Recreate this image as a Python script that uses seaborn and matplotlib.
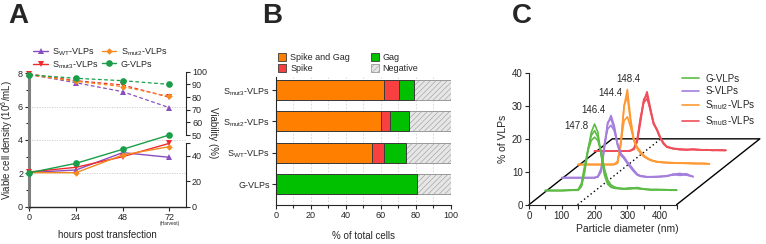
import numpy as np
import matplotlib
matplotlib.use("Agg")
import matplotlib.pyplot as plt
import seaborn as sns
from matplotlib.lines import Line2D
from matplotlib.patches import Patch

sns.set_style("ticks")
plt.rcParams['font.family'] = ['Liberation Sans', 'DejaVu Sans']
plt.rcParams['mathtext.fontset'] = 'custom'
plt.rcParams['mathtext.rm'] = 'Liberation Sans'
plt.rcParams['mathtext.it'] = 'Liberation Sans:italic'
plt.rcParams['mathtext.bf'] = 'Liberation Sans:bold'
plt.rcParams['hatch.linewidth'] = 0.4

# ---------------- data: panel A ----------------
hours = [0, 24, 48, 72]
a_labels = ["S$_{\\mathrm{WT}}$-VLPs", "S$_{\\mathrm{mut3}}$-VLPs",
            "S$_{\\mathrm{mut2}}$-VLPs", "G-VLPs"]
density_wt = [2.05, 2.20, 3.24, 2.96]
density_mut3 = [2.08, 2.36, 3.00, 3.80]
density_mut2 = [2.04, 2.04, 3.10, 3.60]
density_g = [2.03, 2.60, 3.44, 4.30]
viab_wt = [97.8, 91.3, 84.2, 71.6]
viab_mut3 = [98.2, 92.9, 89.5, 79.8]
viab_mut2 = [97.5, 92.4, 88.2, 80.5]
viab_g = [97.5, 94.8, 92.9, 90.0]

# ---------------- data: panel B ----------------
b_groups = ["S$_{\\mathrm{mut3}}$-VLPs", "S$_{\\mathrm{mut2}}$-VLPs",
            "S$_{\\mathrm{WT}}$-VLPs", "G-VLPs"]
spike_gag = [62.1, 60.2, 55.2, 0.0]
spike = [8.4, 4.8, 6.5, 0.0]
gag = [8.5, 11.4, 12.6, 80.6]
negative = [21.0, 23.6, 25.7, 19.4]

# ---------------- data: panel C ----------------
size_nm = [0, 50, 100, 110, 120, 130, 140, 150, 160, 170, 180, 190, 200,
           210, 220, 230, 240, 260, 280, 300, 320, 340, 360, 380, 400]
g_rep1 = [0.3, 0.3, 0.4, 1.5, 6, 12.5, 18, 20.5, 18, 11, 5, 2.2, 1.3, 1.0, 0.9, 0.8, 0.7, 0.8, 1.0, 0.7, 0.5, 0.6, 0.5, 0.4, 0.4]
g_rep2 = [0.3, 0.3, 0.5, 2.0, 7, 13, 17, 18.5, 16.5, 11.5, 6, 2.8, 1.6, 1.1, 1.0, 0.9, 0.8, 1.0, 1.2, 0.8, 0.6, 0.5, 0.6, 0.5, 0.4]
g_rep3 = [0.3, 0.3, 0.6, 2.5, 8, 12.5, 15.5, 16.5, 15.5, 12, 7, 3.5, 2.0, 1.4, 1.1, 1.0, 0.9, 1.1, 0.9, 0.7, 0.6, 0.6, 0.5, 0.4, 0.4]
s_rep1 = [0.2, 0.2, 0.2, 0.4, 2.0, 9, 16.5, 19.1, 16, 10.5, 7.5, 6, 4.5, 3.2, 2, 1, 0.6, 0.4, 0.4, 0.5, 0.6, 1.2, 1.5, 1.0, 0.5]
s_rep2 = [0.2, 0.2, 0.2, 0.5, 2.5, 10, 17, 18.1, 15, 10, 7, 6, 4.8, 3.5, 2.2, 1.2, 0.7, 0.4, 0.5, 0.5, 0.8, 1.0, 1.2, 1.4, 0.5]
s_rep3 = [0.2, 0.2, 0.2, 0.6, 3.0, 10.5, 15, 16.1, 14.5, 10.5, 7.5, 6.5, 5, 3.8, 2.5, 1.3, 0.8, 0.5, 0.5, 0.6, 0.7, 1.3, 0.9, 1.1, 0.6]
m2_rep1 = [0.2, 0.2, 0.2, 0.2, 0.6, 6, 18, 23, 14, 7.5, 5, 3.6, 2.6, 2, 1.5, 1.2, 1.0, 0.8, 0.7, 0.6, 0.6, 0.5, 0.5, 0.5, 0.4]
m2_rep2 = [0.2, 0.2, 0.2, 0.2, 0.8, 7, 18, 20.8, 13, 7.5, 5.2, 3.9, 2.8, 2.1, 1.6, 1.3, 1.0, 0.8, 0.7, 0.6, 0.6, 0.6, 0.5, 0.5, 0.4]
m2_rep3 = [0.2, 0.2, 0.2, 0.3, 1.2, 7, 13.5, 14.7, 11.5, 7.5, 5.5, 4.2, 3, 2.2, 1.7, 1.3, 1.1, 0.9, 0.8, 0.7, 0.6, 0.6, 0.5, 0.5, 0.4]
m3_rep1 = [0.3, 0.3, 0.3, 0.4, 0.8, 3, 9, 15.5, 18.3, 13.5, 8.5, 6.6, 4.2, 2.5, 1.5, 1.2, 1.0, 0.8, 0.6, 0.9, 0.7, 0.6, 0.5, 0.6, 0.5]
m3_rep2 = [0.3, 0.3, 0.3, 0.4, 1.0, 3.5, 10, 16, 17.3, 12.5, 8.5, 7, 4.6, 2.8, 1.7, 1.3, 1.0, 0.7, 0.8, 0.7, 0.6, 0.7, 0.5, 0.5, 0.5]
m3_rep3 = [0.3, 0.3, 0.3, 0.5, 1.2, 4, 10.5, 15, 16.2, 13, 9, 6.8, 4.4, 2.6, 1.6, 1.4, 1.1, 0.9, 0.7, 0.8, 0.7, 0.6, 0.6, 0.5, 0.5]
c_labels = ["G-VLPs", "S-VLPs", "S$_{\\mathrm{mut2}}$-VLPs", "S$_{\\mathrm{mut3}}$-VLPs"]
peak_labels = ["147.8", "146.4", "144.4", "148.4"]

TICK = 6.5
LAB = 7

fig = plt.figure(figsize=(7.66, 2.44), dpi=100)

# ================= panel A =================
a_cols = ["#8a4fbf", "#ee2b2b", "#f58a1f", "#1a9e4a"]
a_marks = ["^", "v", "D", "o"]
a_msize = [4.5, 4.5, 3.3, 4.8]
dens = [density_wt, density_mut3, density_mut2, density_g]
viab = [viab_wt, viab_mut3, viab_mut2, viab_g]

axa = fig.add_axes([0.0383, 0.153, 0.2042, 0.5467])
for v in [2, 4, 6]:
    axa.axhline(v, color="#c8c8c8", lw=0.6, ls=(0, (1.5, 1.5)), zorder=0)
for d, col, mk, ms in zip(dens, a_cols, a_marks, a_msize):
    sns.lineplot(x=hours, y=d, ax=axa, color=col, marker=mk, markersize=ms,
                 markeredgewidth=0, linewidth=1.0, clip_on=False, zorder=3)
axa.set_xlim(0, 80.4)
axa.set_ylim(0, 8)
axa.set_xticks(hours)
axa.set_yticks([0, 2, 4, 6, 8])
axa.set_yticks([1, 3, 5, 7], minor=True)
axa.spines[["top", "right"]].set_visible(False)
axa.spines["left"].set_color("#7f7f7f")
axa.spines["left"].set_linewidth(2.2)
axa.spines["bottom"].set_linewidth(1.0)
axa.tick_params(labelsize=TICK, length=3, width=0.8, pad=1.5)
axa.tick_params(which="minor", length=2, width=0.8)
axa.set_ylabel("Viable cell density (10$^6$/mL)", fontsize=LAB, labelpad=2)
axa.set_xlabel("hours post transfection", fontsize=LAB, labelpad=6)
axa.annotate("(Harvest)", xy=(72, 0), xycoords=("data", "axes fraction"),
             xytext=(0, -16.5), textcoords="offset pixels",
             ha="center", va="center", fontsize=3.5)

# viability, upper part of broken right axis
axu = fig.add_axes([0.0383, 0.4467, 0.2042, 0.2594])
axu.patch.set_alpha(0)
for v, col, mk, ms in zip(viab, a_cols, a_marks, a_msize):
    sns.lineplot(x=hours, y=v, ax=axu, color=col, marker=mk, markersize=ms,
                 markeredgewidth=0, linewidth=0.9, linestyle=(0, (3, 2)),
                 clip_on=False, zorder=3)
axu.set_xlim(0, 80.4)
axu.set_ylim(50, 100)
axu.set_yticks([50, 60, 70, 80, 90, 100])
axu.spines[["top", "left", "bottom"]].set_visible(False)
axu.yaxis.tick_right()
axu.set_xticks([])
axu.tick_params(labelsize=TICK, length=3, width=0.8, pad=1.5)

# lower part of broken right axis
axl = fig.add_axes([0.0383, 0.153, 0.2042, 0.261])
axl.patch.set_alpha(0)
axl.set_xlim(0, 80.4)
axl.set_ylim(0, 50)
axl.set_yticks([0, 20, 40, 50], ["0", "20", "40", ""])
axl.spines[["top", "left", "bottom"]].set_visible(False)
axl.yaxis.tick_right()
axl.set_xticks([])
axl.tick_params(labelsize=TICK, length=3, width=0.8, pad=1.5)

fig.text(213 / 766, 1 - 133 / 244, "Viability (%)", rotation=270,
         ha="center", va="center", fontsize=LAB)

a_handles = [Line2D([], [], color=c, marker=m, markersize=s, markeredgewidth=0, lw=1.0)
             for c, m, s in zip(a_cols, a_marks, a_msize)]
fig.legend(a_handles, a_labels, ncol=2, loc="upper left",
           bbox_to_anchor=(27 / 766, 1 - 40 / 244), frameon=False,
           fontsize=6.5, handlelength=1.6, handletextpad=0.5,
           columnspacing=0.3, labelspacing=0.2, borderpad=0.2)

# ================= panel B =================
axb = fig.add_axes([0.3603, 0.1598, 0.2281, 0.5246])
stack = np.array([spike_gag, spike, gag, negative])
cum = stack.cumsum(axis=0)
b_cols = ["#ff8000", "#f84040", "#00c000", "#e6e6e6"]
b_names = ["Spike and Gag", "Spike", "Gag", "Negative"]
for i in [3, 2, 1, 0]:
    sns.barplot(x=cum[i], y=b_groups, orient="h", color=b_cols[i], saturation=1,
                width=0.64, edgecolor="#9a9a9a" if i == 3 else "#3a3a3a",
                linewidth=0.7, errorbar=None, ax=axb)
for p in axb.containers[0]:
    p.set_hatch("//////")
axb.set_xlim(0, 100)
axb.set_ylim(3.67, -0.42)
axb.set_xticks(range(0, 101, 20))
axb.set_xticks(range(10, 100, 20), minor=True)
axb.set_axisbelow(True)
axb.grid(axis="x", which="both", color="#d4d4d4", lw=0.6, ls=(0, (2, 2)))
axb.spines[["top", "right"]].set_visible(False)
axb.tick_params(labelsize=TICK, length=3, width=0.8, pad=1.5)
axb.tick_params(which="minor", length=2, width=0.8)
axb.set_xlabel("% of total cells", fontsize=LAB, labelpad=8)
axb.set_ylabel("")
b_handles = [Patch(facecolor=c, edgecolor="#3a3a3a", lw=0.6) for c in b_cols]
b_handles[3] = Patch(facecolor=b_cols[3], edgecolor="#9a9a9a", lw=0.6, hatch="//////")
fig.legend(b_handles, b_names, ncol=2, loc="upper left",
           bbox_to_anchor=(272 / 766, 1 - 47 / 244), frameon=False,
           fontsize=6.5, handlelength=0.9, handleheight=0.9, handletextpad=0.4,
           columnspacing=2.3, labelspacing=0.2, borderpad=0.2)

# ================= panel C =================
axc = fig.add_axes([0.6906, 0.1611, 0.3048, 0.5398])
c_cols = ["#5dbb46", "#a47fdd", "#ff9933", "#ef4f5a"]
c_reps = [[g_rep1, g_rep2, g_rep3], [s_rep1, s_rep2, s_rep3],
          [m2_rep1, m2_rep2, m2_rep3], [m3_rep1, m3_rep2, m3_rep3]]
step_x, step_y = 50, 4
floor_w = 450
depth_x, depth_y = 254, 20

# floor of the pseudo-3D plot
axc.plot([0, depth_x, floor_w + depth_x, floor_w], [0, depth_y, depth_y, 0],
         color="black", lw=1.0, clip_on=False, zorder=1)
axc.plot([148, 148 + depth_x], [0, depth_y], color="black", lw=1.0,
         ls=(0, (1, 2)), zorder=1)

for k in [3, 2, 1, 0]:
    dx = step_x * (k + 1)
    dy = step_y * (k + 1)
    for rep in c_reps[k]:
        sns.lineplot(x=np.array(size_nm) + dx, y=np.array(rep) + dy, ax=axc,
                     color=c_cols[k], lw=1.2, sort=False, estimator=None, zorder=2)

peak_pos = [(143, 23.8), (198, 28.7), (249, 34.0), (303, 38.2)]
for lab, (px, py) in zip(peak_labels, peak_pos):
    axc.text(px, py, lab, ha="center", va="center", fontsize=7)

axc.set_xlim(0, 712)
axc.set_ylim(0, 40)
axc.set_xticks([0, 100, 200, 300, 400])
axc.set_xticks([50, 150, 250, 350, 450], minor=True)
axc.set_yticks([0, 10, 20, 30, 40])
axc.spines[["top", "right"]].set_visible(False)
axc.spines["bottom"].set_bounds(0, floor_w)
axc.tick_params(labelsize=TICK + 0.5, length=3, width=0.8, pad=1.5)
axc.tick_params(which="minor", length=3, width=0.8)
axc.set_ylabel("% of VLPs", fontsize=LAB + 0.5, labelpad=3)
axc.set_xlabel("Particle diameter (nm)", fontsize=LAB + 0.5)
axc.xaxis.set_label_coords(300 / 712, -0.15)

c_handles = [Line2D([], [], color=c, lw=1.2) for c in c_cols]
fig.legend(c_handles, c_labels, loc="upper left",
           bbox_to_anchor=(675 / 766, 1 - 67 / 244), frameon=False,
           fontsize=7, handlelength=1.8, handletextpad=0.6, labelspacing=0.22,
           borderpad=0.2)

# panel letters
for letter, xp in [("A", 8), ("B", 262), ("C", 512)]:
    fig.text(xp / 766, 1 - 3 / 244, letter, fontsize=20, fontweight="bold",
             ha="left", va="top")

fig.savefig("out.png", dpi=100)
